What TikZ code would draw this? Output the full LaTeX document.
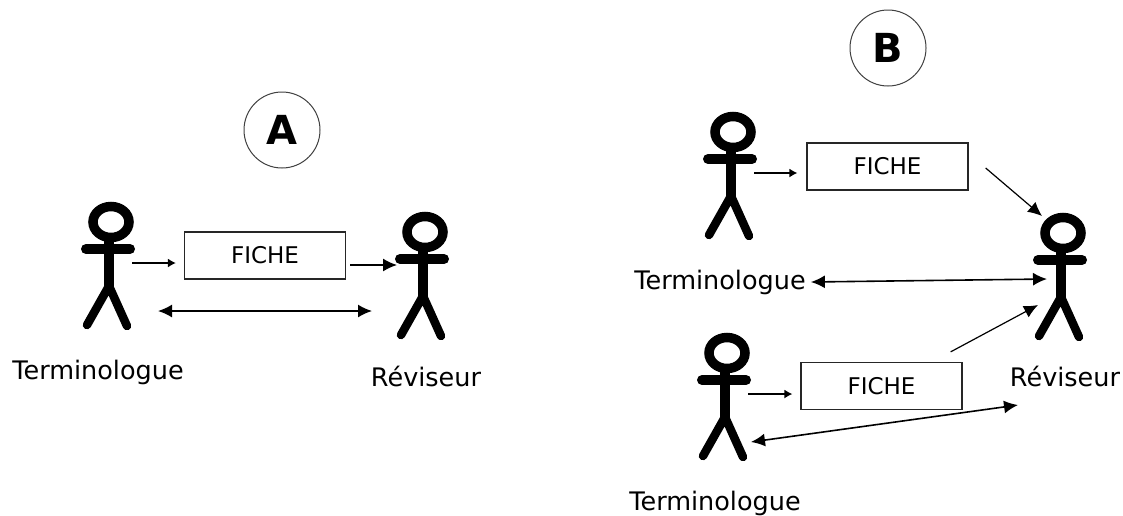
\documentclass[tikz,border=0pt]{standalone}
\usepackage{fontspec}
\setmainfont{DejaVu Sans}
\usetikzlibrary{arrows.meta,positioning}
\tikzset{
  stickman/.pic={
    \draw[line width=9.5pt] (0,0) ellipse [x radius=18,y radius=15.5];
    \draw[line width=10pt,line cap=round] (-25,27) -- (19,27);
    \draw[line width=9.5pt] (-2,18) -- (-2,64);
    \draw[line width=8.5pt,line cap=round,line join=round] (-24,103) -- (-2,64) -- (16,104);
    \coordinate (-hand) at (21,41);
    \coordinate (-chest) at (-28,33);
    \coordinate (-hip) at (24,89);
    \coordinate (-reach) at (-53,79);
  },
  fichebox/.style={draw,line width=1.3pt,black!85,text=black,minimum width=161pt,minimum height=47pt,inner sep=0pt,font=\fontsize{23}{23}\selectfont},
  caselabel/.style={draw,circle,line width=1pt,black!75,text=black,minimum size=76pt,inner sep=0pt,font=\fontsize{40}{40}\selectfont\bfseries},
  namelabel/.style={inner sep=0pt,font=\fontsize{25.5}{25.5}\selectfont},
  flowthin/.style={line width=1.3pt,-{Latex[length=8pt,width=9pt]}},
  flowthick/.style={line width=1.5pt,-{Latex[length=14pt,width=13pt]}},
  flowboth/.style={line width=1.6pt,{Latex[length=14pt,width=13pt]}-{Latex[length=14pt,width=13pt]}}
}
\begin{document}
\begin{tikzpicture}[x=1pt,y=-1pt]
  \useasboundingbox (0,0) rectangle (1123,515);
  % A
  \node[caselabel] (caseA) at (282,130) {A};
  \pic (termA) at (111,222) {stickman};
  \pic (revA) at (425,232) {stickman};
  \node[fichebox] (ficheA) at (265,255.5) {FICHE};
  \node[namelabel] (nameTermA) at (98,372) {Terminologue};
  \node[namelabel] (nameRevA) at (426,376) {Réviseur};
  \draw[flowthin] (termA-hand) -- ([xshift=-8pt,yshift=-7.5pt]ficheA.west);
  \draw[flowthick] ([xshift=4pt,yshift=-9.5pt]ficheA.east) -- (revA-chest);
  \draw[flowboth] ([xshift=23pt]termA-hip) -- (revA-reach);
  % B
  \node[caselabel] (caseB) at (888,48) {B};
  \pic (termB) at (733,132) {stickman};
  \pic (termC) at (727,353) {stickman};
  \pic (revB) at (1063,233) {stickman};
  \node[fichebox] (ficheB) at (887.5,166.5) {FICHE};
  \node[fichebox] (ficheC) at (881.5,386) {FICHE};
  \node[namelabel] (nameTermB) at (720,282) {Terminologue};
  \node[namelabel] (nameTermC) at (715,503) {Terminologue};
  \node[namelabel] (nameRevB) at (1065,376) {Réviseur};
  \coordinate (revB-top) at (1042,216);
  \coordinate (revB-side) at (1047,279);
  \coordinate (revB-leg) at (1038,305);
  \coordinate (revB-below) at (1018,405);
  \draw[flowthin] (termB-hand) -- ([xshift=-9pt,yshift=-6.5pt]ficheB.west);
  \draw[flowthin] (termC-hand) -- ([xshift=-8pt,yshift=-8pt]ficheC.west);
  \draw[flowthick,line width=1.2pt] ([xshift=17pt,yshift=-1.5pt]ficheB.east) -- (revB-top);
  \draw[flowthick,line width=1.2pt] ([xshift=-12pt,yshift=10pt]ficheC.north east) -- (revB-leg);
  \draw[flowboth] ([xshift=5pt]nameTermB.east) -- (revB-side);
  \draw[flowboth] (termC-hip) -- (revB-below);
\end{tikzpicture}
\end{document}
